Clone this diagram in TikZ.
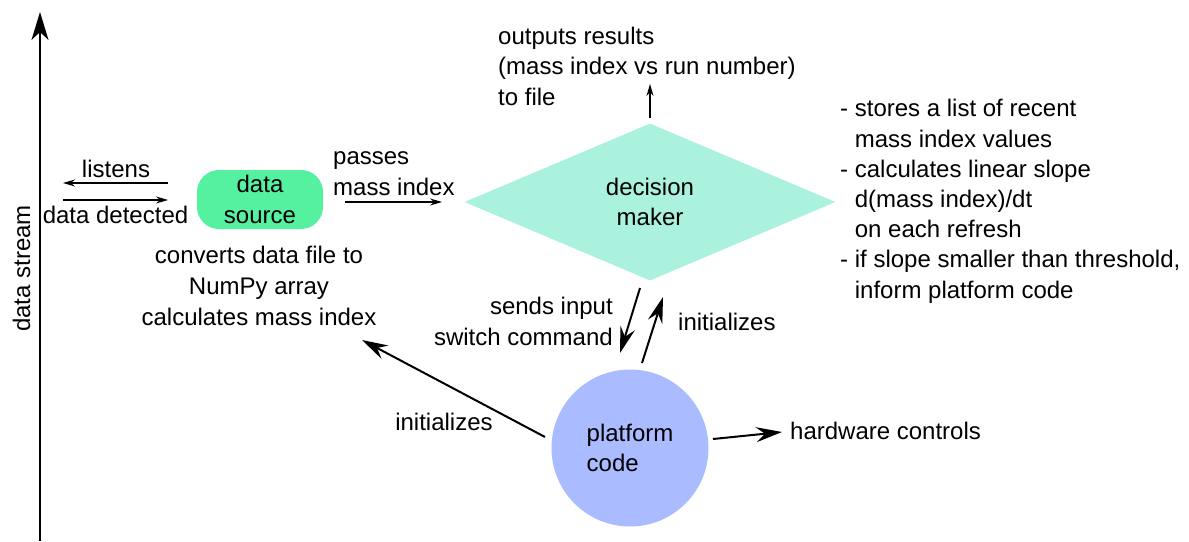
\documentclass[tikz,border=0pt]{standalone}
\usepackage{fontspec}
\setmainfont{Liberation Sans}
\usetikzlibrary{arrows.meta,shapes.geometric}
\definecolor{srcgreen}{RGB}{85,240,160}
\definecolor{dmteal}{RGB}{170,242,222}
\definecolor{pcblue}{RGB}{170,187,255}
\tikzset{
  lbl/.style={font=\fontsize{24}{30.2}\selectfont, inner sep=0pt, text=black},
  thinarrow/.style={line width=1.4pt, -{Stealth[length=12pt,width=7pt,inset=4pt]}},
  bigarrow/.style={line width=2pt, -{Stealth[length=26pt,width=15pt,inset=9pt]}},
  axisarrow/.style={line width=2pt, -{Stealth[length=28pt,width=17pt,inset=8pt]}},
}
\begin{document}
\begin{tikzpicture}[x=1pt,y=-1pt]
\useasboundingbox (0,0) rectangle (1189,541);

% vertical data stream axis
\coordinate (axbot) at (40,541);
\coordinate (axtop) at (40,12);
\draw[axisarrow] (axbot) -- (axtop);
\node[lbl, rotate=90, anchor=base] (stream) at (30,268.5) {data stream};

% listening to the stream
\coordinate (lsR) at (168,183);
\coordinate (lsL) at (63,183);
\coordinate (ddL) at (63,200);
\coordinate (ddR) at (168,200);
\draw[thinarrow] (lsR) -- (lsL);
\draw[thinarrow] (ddL) -- (ddR);
\node[lbl, anchor=base] (listens) at (116,177) {listens};
\node[lbl, anchor=base] (detected) at (115.5,223) {data detected};

% data source (multi-line labels are anchored on their last baseline)
\node[lbl, fill=srcgreen, rounded corners=22pt, minimum width=126pt,
      minimum height=59pt, align=center] (src) at (260,199.5) {data\\source};
\node[lbl, anchor=base, align=center, font=\fontsize{24}{31}\selectfont]
  (convert) at (259,325) {converts data file to\\NumPy array\\calculates mass index};

% passing mass index on
\node[lbl, anchor=base west, align=left] (passes) at (333,195) {passes\\mass index};
\coordinate (psL) at (345,202);
\coordinate (psR) at (442,202);
\draw[thinarrow] (psL) -- (psR);

% decision maker
\node[lbl, shape=diamond, fill=dmteal, minimum width=371pt, minimum height=157pt,
      aspect=2.36, align=center] (dm) at (650,202) {decision\\maker};
\coordinate (outB) at (650,118);
\coordinate (outT) at (650,84);
\draw[thinarrow] (outB) -- (outT);
\node[lbl, anchor=base west, align=left] (outputs) at (498,105)
  {outputs results\\(mass index vs run number)\\to file};

\node[lbl, anchor=base west, align=left] (notes) at (840,298)
  {- stores a list of recent\\
   \phantom{-\ }mass index values\\
   - calculates linear slope\\
   \phantom{-\ }d(mass index)/dt\\
   \phantom{-\ }on each refresh\\
   - if slope smaller than threshold,\\
   \phantom{-\ }inform platform code};

% platform code
\node[lbl, circle, fill=pcblue, minimum size=157pt, align=left] (pc) at (630,448) {platform\\code};

\coordinate (sdT) at (640,288);
\coordinate (sdB) at (620,353);
\draw[bigarrow] (sdT) -- (sdB);
\node[lbl, anchor=base east, align=right] (sends) at (613,345) {sends input\\switch command};

\coordinate (inB) at (642,363);
\coordinate (inT) at (663,297);
\draw[bigarrow] (inB) -- (inT);
\node[lbl, anchor=base west] (initR) at (678,330) {initializes};

\coordinate (ilS) at (545,437);
\coordinate (ilE) at (362,340);
\draw[bigarrow] (ilS) -- (ilE);
\node[lbl, anchor=base] (initL) at (444,430) {initializes};

\coordinate (hwS) at (713,439);
\coordinate (hwE) at (782,432);
\draw[bigarrow] (hwS) -- (hwE);
\node[lbl, anchor=base west] (hardware) at (790,439) {hardware controls};
\end{tikzpicture}
\end{document}
